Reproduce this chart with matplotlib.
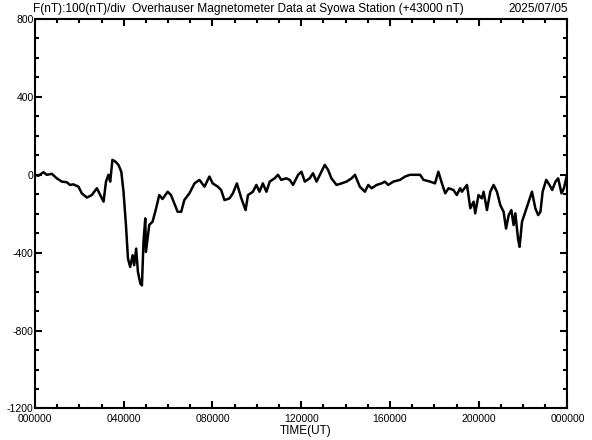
import matplotlib
import matplotlib.pyplot as plt
from matplotlib.ticker import FixedLocator, FuncFormatter, MultipleLocator

matplotlib.use("Agg")

plt.rcParams["font.family"] = ["Liberation Sans", "DejaVu Sans"]
plt.rcParams["axes.unicode_minus"] = False

# time in hours (UT), value in nT relative to 43000 nT
hours = [
    0.00, 0.15, 0.38, 0.53, 0.76, 0.98, 1.21, 1.43, 1.58, 1.73, 1.96, 2.11,
    2.34, 2.56, 2.79, 2.94, 3.09, 3.20, 3.31, 3.39, 3.49, 3.62, 3.76, 3.89,
    3.99, 4.10, 4.19, 4.29, 4.40, 4.47, 4.56, 4.64, 4.75, 4.82, 4.89, 4.97,
    5.00, 5.15, 5.30, 5.46, 5.60, 5.75, 5.98, 6.13, 6.28, 6.43, 6.59, 6.73,
    6.96, 7.19, 7.41, 7.64, 7.86, 8.01, 8.24, 8.39, 8.54, 8.77, 8.92, 9.10,
    9.30, 9.49, 9.60, 9.82, 9.98, 10.12, 10.27, 10.43, 10.58, 10.80, 10.95,
    11.10, 11.33, 11.48, 11.63, 11.86, 12.01, 12.16, 12.38, 12.53, 12.69,
    12.91, 13.06, 13.21, 13.36, 13.59, 13.82, 14.04, 14.27, 14.42, 14.64,
    14.87, 15.02, 15.17, 15.40, 15.62, 15.77, 15.92, 16.15, 16.45, 16.68,
    16.90, 17.13, 17.36, 17.51, 17.81, 18.03, 18.18, 18.34, 18.49, 18.64,
    18.86, 19.01, 19.16, 19.24, 19.47, 19.62, 19.77, 19.84, 19.99, 20.14,
    20.22, 20.37, 20.52, 20.67, 20.82, 20.97, 21.12, 21.23, 21.35, 21.47,
    21.57, 21.65, 21.77, 21.84, 21.95, 22.10, 22.25, 22.40, 22.55, 22.68,
    22.78, 22.88, 23.04, 23.19, 23.31, 23.46, 23.58, 23.73, 23.84, 23.96,
]
values = [
    0, -5, 13, 0, 5, -18, -35, -38, -52, -49, -61, -95,
    -117, -104, -69, -104, -138, -35, 0, -35, 77, 68, 51, 16,
    -87, -258, -430, -473, -413, -464, -379, -499, -559, -568, -344, -224,
    -396, -257, -241, -172, -104, -124, -87, -104, -147, -190, -190, -130,
    -95, -44, -26, -61, -9, -44, -61, -78, -130, -121, -95, -44,
    -121, -181, -104, -87, -52, -87, -44, -87, -35, -18, 0,
    -26, -18, -26, -52, 0, 16, -35, -18, 8, -35,
    16, 51, 25, -18, -52, -44, -35, -18, 0, -61,
    -87, -52, -69, -52, -44, -35, -52, -35, -26, -9,
    0, 0, 0, -26, -35, -44, 16, -44, -95, -69,
    -78, -104, -69, -87, -52, -172, -138, -198, -104, -121,
    -87, -181, -87, -52, -87, -155, -190, -276, -207, -181,
    -258, -198, -327, -370, -241, -190, -138, -87, -172, -207,
    -190, -87, -26, -52, -78, -35, -18, -95, -69, -9,
]

title = "F(nT):100(nT)/div  Overhauser Magnetometer Data at Syowa Station (+43000 nT)"
date_text = "2025/07/05"
y_ticks = [800, 400, 0, -400, -800, -1200]

fig = plt.figure(figsize=(5.92, 4.4), dpi=100)
ax = fig.add_axes([0.0591, 0.0716, 0.8995, 0.8852])

ax.plot(hours, values, color="black", linewidth=1.8)

ax.set_xlim(0, 24)
ax.set_ylim(-1200, 800)
ax.xaxis.set_major_locator(MultipleLocator(4))
ax.xaxis.set_minor_locator(MultipleLocator(1))
ax.xaxis.set_major_formatter(FuncFormatter(lambda h, _: "%02d0000" % (int(round(h)) % 24)))
ax.yaxis.set_major_locator(FixedLocator(y_ticks))
ax.yaxis.set_minor_locator(MultipleLocator(100))
ax.yaxis.set_major_formatter(FuncFormatter(lambda v, _: "%d" % v))

ax.tick_params(which="both", direction="in", top=True, right=True, width=1.5, colors="black")
ax.tick_params(which="major", length=5)
ax.tick_params(which="minor", length=3)
ax.tick_params(axis="x", labelsize=7.5, pad=4)
ax.tick_params(axis="y", labelsize=7.5, pad=1)
for spine in ax.spines.values():
    spine.set_linewidth(1.5)

fig.text(33 / 592, 1 - 9 / 440, title, ha="left", va="center", fontsize=8.6)
fig.text(568 / 592, 1 - 9 / 440, date_text, ha="right", va="center", fontsize=8.6)
fig.text(306 / 592, 1 - 431 / 440, "TIME(UT)", ha="center", va="center", fontsize=8.5)

fig.savefig("out.png", dpi=100)
plt.close(fig)
